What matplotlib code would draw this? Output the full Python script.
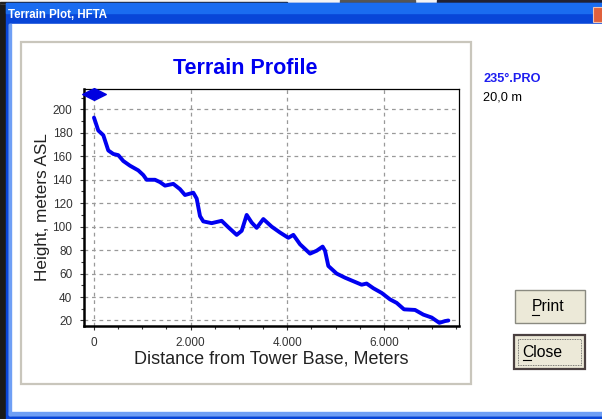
import numpy as np
import matplotlib
matplotlib.use("Agg")
import matplotlib.pyplot as plt
from matplotlib.patches import Rectangle
from matplotlib.path import Path

plt.rcParams['font.family'] = ['Liberation Sans', 'DejaVu Sans']

# terrain profile (distance m, height m ASL)
dist = [0, 89, 193, 296, 400, 503, 607, 745, 917, 1021, 1090, 1263, 1366, 1470,
        1642, 1780, 1884, 2056, 2126, 2195, 2263, 2436, 2643, 2781, 2954, 3058,
        3161, 3265, 3368, 3506, 3679, 3851, 4023, 4127, 4265, 4472, 4610, 4733,
        4783, 4851, 5023, 5196, 5368, 5541, 5644, 5783, 5955, 6128, 6266, 6418,
        6646, 6818, 6991, 7149, 7267, 7336]
height = [193, 182, 178, 165, 162, 161, 156, 152, 148, 144, 140, 140, 138, 135,
          136.5, 132, 127, 129, 124, 109, 104.5, 103, 105, 99.5, 93, 96.5,
          110, 103.5, 99, 106.5, 100, 95, 90.5, 93, 85, 77, 79.5, 83,
          79.5, 66.5, 60, 56.5, 53.5, 50.5, 51.5, 47.5, 43.5, 38, 35, 29.5,
          29, 25, 22.5, 18, 19.5, 20]
tower_x, tower_h = 0, 213

xticks = [0, 2000, 4000, 6000]
xtick_labels = ["0", "2.000", "4.000", "6.000"]
yticks = [20, 40, 60, 80, 100, 120, 140, 160, 180, 200]

W, H = 602, 419
fig = plt.figure(figsize=(W / 100, H / 100), dpi=100)
fig.patch.set_facecolor('white')

# window chrome drawn in pixel coordinates
bg = fig.add_axes([0, 0, 1, 1])
bg.set_xlim(0, W)
bg.set_ylim(H, 0)
bg.axis('off')
bg.add_patch(Rectangle((0, 0), 6, H, color='#1a1a1a'))
bg.add_patch(Rectangle((0, 0), W, 3, color='#f4f4f4'))
bg.add_patch(Rectangle((0, 2), 287, 1.2, color='#202020'))
bg.add_patch(Rectangle((340, 0), 75, 3, color='#555555'))
bg.add_patch(Rectangle((437, 0), W - 437, 3, color='#222233'))
bg.add_patch(Rectangle((6, 3), W - 6, H - 3, color='#0846d8'))
bg.add_patch(Rectangle((6, 3), W - 6, 10, color='#1a6cf0'))
bg.add_patch(Rectangle((9, 24), W - 9, 391, color='white'))
bg.add_patch(Rectangle((9, 24), 1.5, 391, color='#6f9ff5'))
bg.add_patch(Rectangle((9, 412), W - 9, 3, color='#6f9ff5'))
bg.add_patch(Rectangle((593, 7), 12, 15, facecolor='#e0603c', edgecolor='#f0c0b0', lw=0.8))
bg.text(8, 14.5, "Terrain Plot, HFTA", color='white', fontsize=8.3,
        fontweight='bold', va='center', ha='left')
bg.add_patch(Rectangle((20.5, 42.5), 450, 341, facecolor='white',
                       edgecolor='#c9c6bc', lw=1.6))
bg.text(245.5, 68, "Terrain Profile", color='#0000f0', fontsize=15.5,
        fontweight='bold', va='center', ha='center')
bg.text(483, 79, "235°.PRO", color='#1e1ef0', fontsize=9.2, fontweight='bold',
        va='center', ha='left')
bg.text(483, 97, "20,0 m", color='black', fontsize=9.2, va='center', ha='left')

# buttons
bg.add_patch(Rectangle((515, 290), 70, 33, facecolor='#ece9d8',
                       edgecolor='#8a8a80', lw=1.0))
bg.text(531.5, 306.5, "Print", fontsize=11.3, ha='left', va='center')
bg.plot([532, 539], [314.5, 314.5], color='black', lw=0.8)
bg.add_patch(Rectangle((514, 335), 71, 34, facecolor='#ece9d8',
                       edgecolor='#4a4040', lw=1.6))
bg.add_patch(Rectangle((518, 339), 63, 26, facecolor='none',
                       edgecolor='#555555', lw=0.6, ls=(0, (1, 1))))
bg.text(522, 352, "Close", fontsize=11.3, ha='left', va='center')
bg.plot([522.5, 530.5], [360, 360], color='black', lw=0.8)

# chart
l, r, t, b = 83.5, 458.7, 89, 326
ax = fig.add_axes([l / W, 1 - b / H, (r - l) / W, (b - t) / H])
ax.set_xlim(-217, 7550)
ax.set_ylim(15.3, 217.4)
ax.plot(dist, height, color='#0000f0', lw=2.8, solid_joinstyle='round',
        solid_capstyle='round', zorder=3)
diamond = Path([(-1, 0), (0, 0.5), (1, 0), (0, -0.5), (-1, 0)],
               [Path.MOVETO, Path.LINETO, Path.LINETO, Path.LINETO, Path.CLOSEPOLY])
ax.plot([tower_x], [tower_h], marker=diamond, ms=17, color='#0000e0',
        clip_on=False, zorder=4)

ax.set_xticks(xticks)
ax.set_xticklabels(xtick_labels)
ax.set_xticks(np.arange(0, 7501, 500), minor=True)
ax.set_yticks(yticks)
ax.set_yticks(np.arange(20, 211, 10), minor=True)
ax.tick_params(labelsize=8.5, length=3, width=0.8, colors='#333333', pad=5)
ax.tick_params(which='minor', length=2, width=0.8, colors='#333333')
ax.grid(True, which='major', color='#999999', ls=(0, (3, 3)), lw=0.9)
for s in ['left', 'bottom']:
    ax.spines[s].set_linewidth(1.8)
for s in ['top', 'right']:
    ax.spines[s].set_linewidth(0.9)

ax.set_xlabel("Distance from Tower Base, Meters", fontsize=13, color='#222222', labelpad=1)
ax.set_ylabel("Height, meters ASL", fontsize=12.3, color='#222222', labelpad=2)

fig.savefig("out.png", dpi=100)
